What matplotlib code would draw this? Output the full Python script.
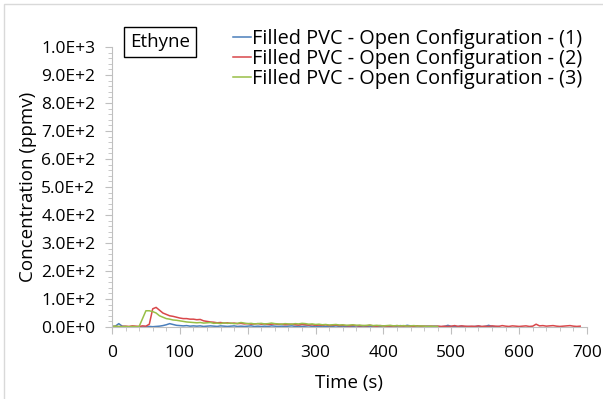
import matplotlib.pyplot as plt
import matplotlib.ticker as mticker
from matplotlib.patches import Rectangle
import numpy as np

# time (s) and concentrations (ppmv), sampled every 5 s
blue_t = np.arange(0, 575, 5)
blue_y = [2, 3, 12, 3, 1, 0, 1, 0, 1, 0, 1, 2, 1, 2, 3, 5, 8, 12, 9, 6,
          5, 4, 5, 3, 4, 3, 4, 2, 3, 4, 3, 2, 4, 3, 2, 3, 4, 2, 3, 2,
          3, 4, 2, 3, 2, 3, 2, 4, 3, 2, 3, 2, 3, 4, 2, 3, 2, 3, 4, 2,
          3, 2, 3, 2, 3, 2, 4, 2, 3, 2, 3, 2, 4, 2, 3, 2, 3, 2, 3, 2,
          4, 2, 3, 2, 3, 5, 3, 6, 4, 3, 2, 3, 2, 3, 2, 3, 2, 1, 2, 6,
          2, 1, 2, 3, 1, 2, 1, 2, 3, 1, 2, 6, 2, 1, 2]

red_t = np.arange(0, 695, 5)
red_y = [1, 2, 1, 2, 3, 2, 4, 3, 2, 4, 3, 10, 65, 70, 60, 50, 45, 40, 38, 35,
         32, 30, 30, 28, 28, 26, 27, 22, 20, 18, 17, 15, 16, 14, 15, 13, 14, 12, 13, 11,
         12, 10, 11, 12, 10, 11, 9, 10, 11, 9, 10, 8, 9, 10, 8, 7, 9, 8, 7, 8,
         6, 7, 6, 8, 5, 6, 7, 5, 6, 5, 4, 6, 5, 4, 5, 4, 6, 4, 3, 5,
         4, 3, 4, 3, 5, 3, 4, 3, 2, 3, 4, 2, 3, 2, 3, 2, 3, 2, 3, 2,
         3, 5, 2, 4, 3, 2, 3, 2, 4, 2, 3, 2, 4, 3, 2, 5, 3, 2, 4, 3,
         2, 3, 4, 2, 3, 10, 4, 5, 3, 4, 5, 3, 2, 3, 4, 5, 3, 2, 3]

green_t = np.arange(0, 485, 5)
green_y = [2, 3, 2, 1, 2, 1, 2, 1, 2, 30, 58, 58, 55, 50, 40, 35, 30, 28, 25, 24,
           22, 20, 18, 17, 16, 15, 16, 14, 15, 16, 13, 14, 12, 15, 13, 14, 12, 13, 16, 14,
           12, 13, 11, 12, 13, 11, 12, 14, 12, 11, 10, 12, 11, 10, 12, 11, 13, 12, 10, 11,
           9, 10, 8, 9, 7, 8, 9, 7, 8, 6, 7, 8, 6, 7, 5, 6, 7, 5, 6, 5,
           4, 5, 6, 4, 5, 4, 5, 3, 4, 5, 3, 4, 3, 2, 3, 2, 2]

labels = ["Filled PVC - Open Configuration - (1)",
          "Filled PVC - Open Configuration - (2)",
          "Filled PVC - Open Configuration - (3)"]
colors = ["#4a7ebb", "#d9474a", "#98bf47"]

plt.rcParams['font.family'] = ['Open Sans', 'DejaVu Sans']

fig = plt.figure(figsize=(6.03, 3.99), dpi=100)
ax = fig.add_axes([112/603, 1-327/399, 475/603, 280/399])

ax.plot(blue_t, blue_y, color=colors[0], lw=1.1, label=labels[0])
ax.plot(red_t, red_y, color=colors[1], lw=1.1, label=labels[1])
ax.plot(green_t, green_y, color=colors[2], lw=1.1, label=labels[2])

ax.set_xlim(0, 700)
ax.set_ylim(0, 1000)
ax.xaxis.set_major_locator(mticker.MultipleLocator(100))
ax.xaxis.set_minor_locator(mticker.MultipleLocator(20))
ax.yaxis.set_major_locator(mticker.MultipleLocator(100))
ax.yaxis.set_minor_locator(mticker.MultipleLocator(20))
ax.yaxis.set_major_formatter(mticker.FuncFormatter(
    lambda v, p: "{:.1E}".format(v).replace("E+0", "E+").replace("E+00", "E+0")))

for s in ['top', 'right']:
    ax.spines[s].set_visible(False)
for s in ['left', 'bottom']:
    ax.spines[s].set_color('#bfbfbf')
ax.tick_params(which='both', color='#bfbfbf', labelsize=12.5, labelcolor='black')
ax.tick_params(which='major', length=5)
ax.tick_params(which='minor', length=3)
ax.tick_params(axis='x', which='major', pad=8)
ax.tick_params(axis='y', which='major', pad=7)

ax.set_xlabel("Time (s)", fontsize=13.5, labelpad=9)
ax.set_ylabel("Concentration (ppmv)", fontsize=13.5, labelpad=3)

ax.text(0.038, 1.018, "Ethyne", transform=ax.transAxes, fontsize=13.5, va='center', ha='left',
        bbox=dict(boxstyle='square,pad=0.3', fc='white', ec='black', lw=1))

ax.legend(loc='upper right', bbox_to_anchor=(1.011, 1.1), frameon=False, fontsize=14.3,
          handlelength=0.9, handletextpad=0.05, labelspacing=0.0, borderpad=0)

fig.add_artist(Rectangle((4/603, -0.1), 1.2, 1.1 - 4/399, transform=fig.transFigure,
                         fill=False, ec='#d9d9d9', lw=1))

fig.savefig("out.png", dpi=100)
